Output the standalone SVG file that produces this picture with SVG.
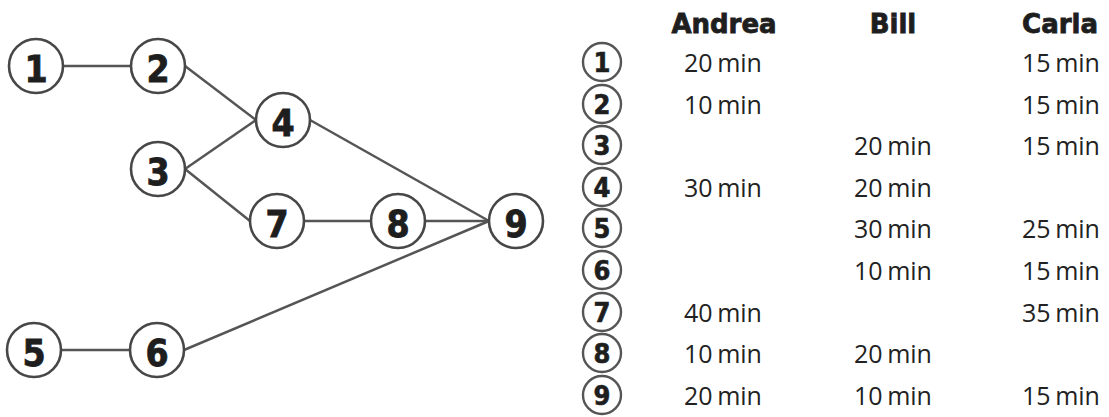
<svg xmlns="http://www.w3.org/2000/svg" width="1109" height="417" viewBox="0 0 1109 417">
<style>
.node circle{fill:#fff;stroke:#474747;stroke-width:2.6}
.node text{font-family:"DejaVu Sans Condensed","DejaVu Sans",sans-serif;font-stretch:condensed;font-weight:bold;font-size:37px;fill:#1e1e1e;stroke:#1e1e1e;stroke-width:0.8;text-anchor:middle}
.edges line{stroke:#555;stroke-width:2.5}
.tc circle{fill:#fff;stroke:#555;stroke-width:2.4}
.tc text{font-family:"DejaVu Sans Condensed","DejaVu Sans",sans-serif;font-stretch:condensed;font-weight:bold;font-size:27px;fill:#1e1e1e;stroke:#1e1e1e;stroke-width:0.6;text-anchor:middle}
.hd{font-family:"DejaVu Sans",sans-serif;font-weight:bold;font-size:26px;fill:#1e1e1e;stroke:#1e1e1e;stroke-width:0.8;text-anchor:middle}
.v{font-family:"Open Sans",sans-serif;font-size:25px;fill:#222;text-anchor:middle;word-spacing:-2px}
</style>
<g class="edges">
<line x1="63" y1="66" x2="131" y2="66"/>
<line x1="185" y1="66" x2="256" y2="120"/>
<line x1="185" y1="169" x2="256" y2="120"/>
<line x1="185" y1="169" x2="250" y2="221"/>
<line x1="310" y1="120" x2="489" y2="221"/>
<line x1="304" y1="221" x2="371" y2="221"/>
<line x1="425" y1="221" x2="489" y2="221"/>
<line x1="184" y1="350" x2="489" y2="221"/>
<line x1="61" y1="350" x2="130" y2="350"/>
</g>
<g id="n1" class="node"><circle cx="36" cy="66" r="27"/><text x="36" y="82">1</text></g>
<g id="n2" class="node"><circle cx="158" cy="66" r="27"/><text x="158" y="82">2</text></g>
<g id="n3" class="node"><circle cx="158" cy="169" r="27"/><text x="158" y="185">3</text></g>
<g id="n4" class="node"><circle cx="283" cy="120" r="27"/><text x="283" y="136">4</text></g>
<g id="n7" class="node"><circle cx="277" cy="221" r="27"/><text x="277" y="237">7</text></g>
<g id="n8" class="node"><circle cx="398" cy="221" r="27"/><text x="398" y="237">8</text></g>
<g id="n9" class="node"><circle cx="516" cy="221" r="27"/><text x="516" y="237">9</text></g>
<g id="n5" class="node"><circle cx="34" cy="350" r="27"/><text x="34" y="366">5</text></g>
<g id="n6" class="node"><circle cx="157" cy="350" r="27"/><text x="157" y="366">6</text></g>
<g id="table">
<text class="hd" x="724" y="33">Andrea</text>
<text class="hd" x="893" y="33">Bill</text>
<text class="hd" x="1060" y="33">Carla</text>
<g class="tc">
<circle cx="602" cy="62" r="19"/><text x="602" y="72">1</text>
<circle cx="602" cy="104" r="19"/><text x="602" y="114">2</text>
<circle cx="602" cy="145" r="19"/><text x="602" y="155">3</text>
<circle cx="602" cy="187" r="19"/><text x="602" y="197">4</text>
<circle cx="602" cy="228" r="19"/><text x="602" y="238">5</text>
<circle cx="602" cy="270" r="19"/><text x="602" y="280">6</text>
<circle cx="602" cy="312" r="19"/><text x="602" y="322">7</text>
<circle cx="602" cy="353" r="19"/><text x="602" y="363">8</text>
<circle cx="602" cy="395" r="19"/><text x="602" y="405">9</text>
</g>
<text class="v" x="723" y="72">20 min</text>
<text class="v" x="1061" y="72">15 min</text>
<text class="v" x="723" y="114">10 min</text>
<text class="v" x="1061" y="114">15 min</text>
<text class="v" x="893" y="155">20 min</text>
<text class="v" x="1061" y="155">15 min</text>
<text class="v" x="723" y="197">30 min</text>
<text class="v" x="893" y="197">20 min</text>
<text class="v" x="893" y="238">30 min</text>
<text class="v" x="1061" y="238">25 min</text>
<text class="v" x="893" y="280">10 min</text>
<text class="v" x="1061" y="280">15 min</text>
<text class="v" x="723" y="322">40 min</text>
<text class="v" x="1061" y="322">35 min</text>
<text class="v" x="723" y="363">10 min</text>
<text class="v" x="893" y="363">20 min</text>
<text class="v" x="723" y="405">20 min</text>
<text class="v" x="893" y="405">10 min</text>
<text class="v" x="1061" y="405">15 min</text>
</g>
</svg>
